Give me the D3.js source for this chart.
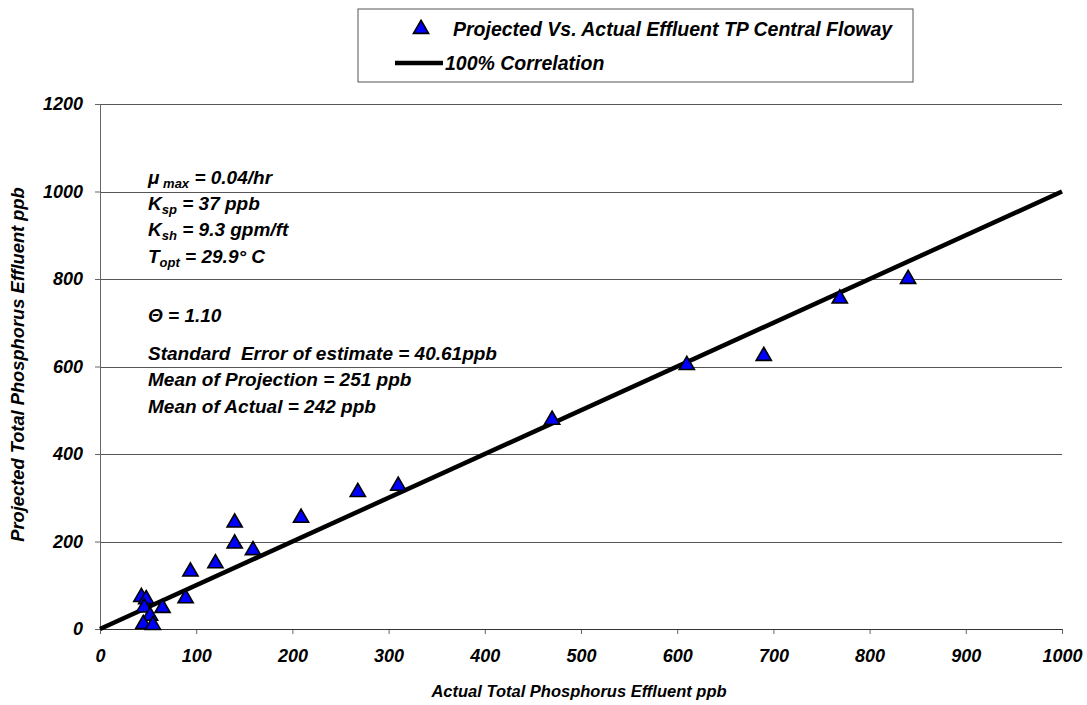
<!DOCTYPE html>
<meta charset="utf-8">
<script src="https://d3js.org/d3.v7.min.js"></script>
<style>
body { margin: 0; background: #fff; }
text { font-family: "Liberation Sans", Arial, sans-serif; font-weight: bold; font-style: italic; fill: #000; }
.axis path { display: none; }
.axis line { stroke: #666; }
.axis text { font-size: 18px; }
.grid line { stroke: #555; stroke-width: 1px; shape-rendering: crispEdges; }
.grid path { display: none; }
.note { font-size: 19px; white-space: pre; }
.legendText { font-size: 19.5px; }
.pt { fill: #0000ff; stroke: #000; stroke-width: 1.6px; }
.fitLine { stroke: #000; stroke-width: 4.5px; fill: none; }
</style>
<body></body>
<script>
// actual vs projected TP (ppb)
const actual    = [43, 48, 46, 52, 45, 55, 65, 89, 94, 120, 140, 140, 159, 209, 268, 310, 470, 610, 690, 769, 840];
const projected = [73, 68, 49, 30, 11, 9, 48, 70, 131, 150, 243, 195, 180, 254, 313, 327, 478, 603, 624, 755, 800];
const corrLine  = [0, 1000];
const xTicks = [0, 100, 200, 300, 400, 500, 600, 700, 800, 900, 1000];
const yTicks = [0, 200, 400, 600, 800, 1000, 1200];

const legendLabels = ["Projected Vs. Actual Effluent TP Central Floway", "100% Correlation"];
// annotation lines: [main, subscript, rest]
const notes = [
  ["\u03BC", " max", " = 0.04/hr"],
  ["K", "sp", " = 37 ppb"],
  ["K", "sh", " = 9.3 gpm/ft"],
  ["T", "opt", " = 29.9\u00B0 C"],
  ["\u0398 = 1.10", "", ""],
  ["Standard  Error of estimate = 40.61ppb", "", ""],
  ["Mean of Projection = 251 ppb", "", ""],
  ["Mean of Actual = 242 ppb", "", ""]
];
const noteY = [184, 210, 236, 263, 322, 360, 386, 413];

const W = 1087, H = 705;
const margin = {top: 104, right: 25, bottom: 76, left: 100};
const innerW = W - margin.left - margin.right;
const innerH = H - margin.top - margin.bottom;

const SVG = d3.select("body").append("svg").attr("width", W).attr("height", H);
const svg = SVG.append("g").attr("transform", "translate(" + margin.left + "," + margin.top + ")");

const x = d3.scaleLinear().domain([0, 1000]).range([0, innerW]);
const y = d3.scaleLinear().domain([0, 1200]).range([innerH, 0]);

// gridlines
svg.append("g").attr("class", "grid")
  .call(d3.axisLeft(y).tickValues(yTicks.slice(1)).tickSize(-innerW).tickFormat(""));

// axes
svg.append("g").attr("class", "y axis")
  .call(d3.axisLeft(y).tickValues(yTicks).tickSize(5).tickPadding(12).tickFormat(d3.format("d")));
svg.append("g").attr("class", "x axis")
  .attr("transform", "translate(0," + innerH + ")")
  .call(d3.axisBottom(x).tickValues(xTicks).tickSize(5).tickPadding(15).tickFormat(d3.format("d")));

svg.append("line").attr("x1", 0).attr("x2", 0).attr("y1", 0).attr("y2", innerH)
  .style("stroke", "#666").style("shape-rendering", "crispEdges");
svg.append("line").attr("x1", 0).attr("x2", innerW).attr("y1", innerH).attr("y2", innerH)
  .style("stroke", "#333").style("shape-rendering", "crispEdges");

// 100% correlation line
svg.append("path").attr("class", "fitLine")
  .attr("d", d3.line().x(d => x(d)).y(d => y(d))(corrLine));

// points
const tri = d3.symbol().type(d3.symbolTriangle).size(100);
svg.selectAll(".pt").data(actual).enter().append("path")
  .attr("class", "pt")
  .attr("d", tri)
  .attr("transform", (d, i) => "translate(" + x(d) + "," + y(projected[i]) + ")");

// annotations
notes.forEach(function(n, i) {
  const t = SVG.append("text").attr("class", "note").attr("x", 148).attr("y", noteY[i]);
  t.append("tspan").text(n[0]);
  if (n[1]) t.append("tspan").attr("dy", 4).style("font-size", "13px").text(n[1]);
  if (n[2]) t.append("tspan").attr("dy", n[1] ? -4 : 0).text(n[2]);
});

// axis titles
SVG.append("text")
  .attr("x", margin.left + innerW / 2 - 2).attr("y", 697)
  .attr("text-anchor", "middle").style("font-size", "16.5px")
  .text("Actual Total Phosphorus Effluent ppb");
SVG.append("text")
  .attr("transform", "translate(24," + (margin.top + innerH / 2 - 2) + ") rotate(-90)")
  .attr("text-anchor", "middle").style("font-size", "18.3px")
  .text("Projected Total Phosphorus Effluent ppb");

// legend
const lg = SVG.append("g");
lg.append("rect").attr("x", 358).attr("y", 9).attr("width", 555).attr("height", 73)
  .style("fill", "#fff").style("stroke", "#555");
lg.append("path").attr("class", "pt").attr("d", tri).attr("transform", "translate(421,29)");
lg.append("line").attr("x1", 395).attr("x2", 443).attr("y1", 63).attr("y2", 63)
  .style("stroke", "#000").style("stroke-width", 4.5);
lg.append("text").attr("class", "legendText").attr("x", 453).attr("y", 36).text(legendLabels[0]);
lg.append("text").attr("class", "legendText").attr("x", 445).attr("y", 70).text(legendLabels[1]);
</script>
